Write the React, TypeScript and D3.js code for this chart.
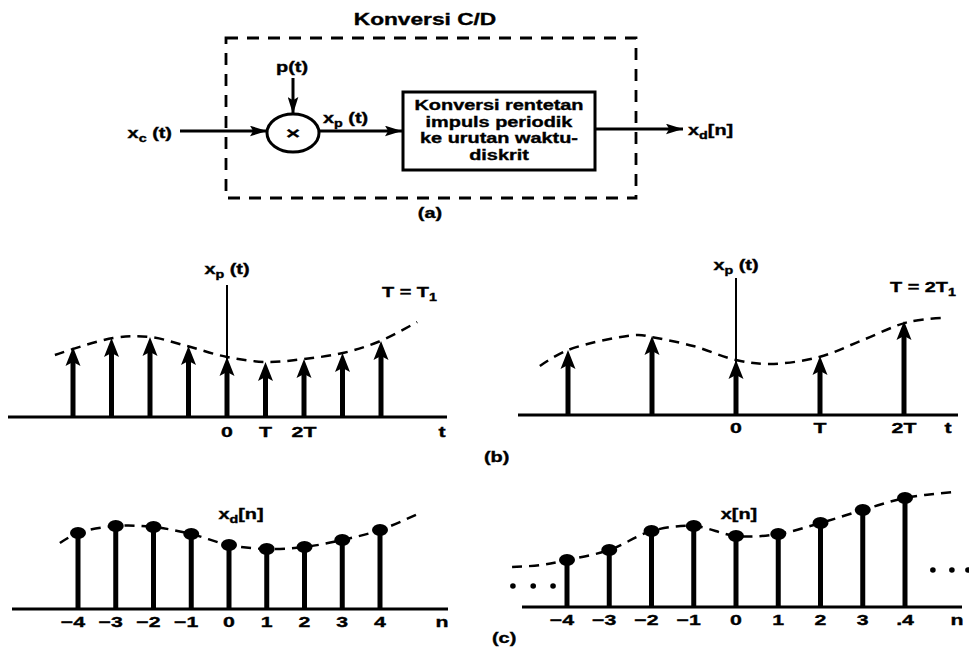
import * as d3 from 'd3';

// ---- data ----
// (b) left: T = T1, impulses at n*T1
const bLeftN = [-4, -3, -2, -1, 0, 1, 2, 3, 4];
const bLeftValues = [70, 79, 80, 71, 60, 55, 58, 64, 76];
const bLeftCurveT = [-4.47, -2.96, -2.0, -1.04, 0, 1.04, 2.0, 3.01, 3.92, 4.94];
const bLeftCurveV = [62, 79, 80, 71, 60, 55, 58, 64, 75, 95];
const bLeftTicks = ['0', 'T', '2T'];

// (b) right: T = 2T1, impulses at 2n*T1
const bRightN = [-4, -2, 0, 2, 4];
const bRightValues = [65, 79, 55, 59, 94];
const bRightCurveT = [-4.67, -4, -2.36, -2.02, -1.02, 0, 0.81, 1.98, 3.02, 4.1, 4.93];
const bRightCurveV = [49, 65, 80, 78, 69, 55, 51, 58, 75, 93, 97];
const bRightTicks = ['0', 'T', '2T'];

// (c) left: xd[n]
const cLeftN = [-4, -3, -2, -1, 0, 1, 2, 3, 4];
const cLeftValues = [76, 83, 82, 75, 64, 60, 62, 69, 79];
const cLeftCurveT = [-4.48, -4, -3, -2, -1, 0, 1, 2, 3, 4, 5.06];
const cLeftCurveV = [66, 76, 83, 82, 75, 64, 60, 62, 69, 79, 96];
const cLeftTicks = ['−4', '−3', '−2', '−1', '0', '1', '2', '3', '4'];

// (c) right: x[n]
const cRightN = [-4, -3, -2, -1, 0, 1, 2, 3, 4];
const cRightValues = [47, 57, 76, 81, 71, 73, 84, 97, 109];
const cRightCurveT = [-5.3, -4.6, -4, -3, -2, -1, 0, 1, 2, 3, 4, 5.14];
const cRightCurveV = [40, 42, 47, 57, 76, 81, 71, 73, 84, 97, 109, 115];
const cRightTicks = ['−4', '−3', '−2', '−1', '0', '1', '2', '3', '.4'];
const cRightDotsLeftT = [-5.28, -4.8, -4.33];
const cRightDotsRightT = [4.66, 5.11, 5.49];

const boxLines = ['Konversi rentetan', 'impuls periodik', 'ke urutan waktu-', 'diskrit'];

const FONT = '"Liberation Sans", Arial, Helvetica, sans-serif';
const SX = 1.42;

function Txt({ x, y, size = 14, anchor = 'middle', children }: any) {
  return (
    <text
      transform={`translate(${x},${y}) scale(${SX},1)`}
      textAnchor={anchor}
      fontSize={size}
      fontWeight="bold"
      fontFamily={FONT}
      fill="#000"
      stroke="#000"
      strokeWidth={0.35}
    >
      {children}
    </text>
  );
}

function Sub({ base, sub, rest }: any) {
  return (
    <>
      {base}
      <tspan fontSize="0.72em" dy="4">{sub}</tspan>
      <tspan dy="-4">{rest}</tspan>
    </>
  );
}

function dashedCurve(x: any, y: any, ts: number[], vs: number[]) {
  const line = d3.line<number>()
    .x((_, i) => x(ts[i]))
    .y((d) => y(d))
    .curve(d3.curveCatmullRom.alpha(0.5));
  return line(vs) as string;
}

function ImpulsePanel({ n, values, curveT, curveV, x, y, axis, vAxisTop, ticks, tickPos, tickY, tLabelX, label, labelY, periodText, periodX, periodY }: any) {
  const base = y(0);
  return (
    <g>
      <line x1={axis[0]} x2={axis[1]} y1={base} y2={base} stroke="#000" strokeWidth={3} />
      <line x1={x(0)} x2={x(0)} y1={vAxisTop} y2={base} stroke="#000" strokeWidth={2} />
      <path d={dashedCurve(x, y, curveT, curveV)} fill="none" stroke="#000" strokeWidth={2.5} strokeDasharray="10 7" />
      {n.map((k: number, i: number) => {
        const tip = y(values[i]);
        return (
          <g key={k}>
            <line x1={x(k)} x2={x(k)} y1={base} y2={tip + 12} stroke="#000" strokeWidth={5} />
            <path d={`M${x(k)},${tip} L${x(k) - 7.5},${tip + 19} L${x(k)},${tip + 15} L${x(k) + 7.5},${tip + 19} Z`} fill="#000" />
          </g>
        );
      })}
      {ticks.map((t: string, i: number) => (
        <Txt key={t} x={x(tickPos[i])} y={tickY} size={15}>{t}</Txt>
      ))}
      <Txt x={tLabelX} y={tickY} size={15}>t</Txt>
      <Txt x={x(0)} y={labelY} size={14}>{label}</Txt>
      <Txt x={periodX} y={periodY} size={14} anchor="start">{periodText}</Txt>
    </g>
  );
}

function StemPanel({ n, values, curveT, curveV, x, y, axis, ticks, tickY, nLabelX, label, labelX, labelY, dotsLeft, dotsRight, dotsLeftV, dotsRightV }: any) {
  const base = y(0);
  return (
    <g>
      <line x1={axis[0]} x2={axis[1]} y1={base} y2={base} stroke="#000" strokeWidth={3} />
      <path d={dashedCurve(x, y, curveT, curveV)} fill="none" stroke="#000" strokeWidth={2.5} strokeDasharray="10 7" />
      {n.map((k: number, i: number) => (
        <g key={k}>
          <line x1={x(k)} x2={x(k)} y1={base} y2={y(values[i])} stroke="#000" strokeWidth={5} />
          <ellipse cx={x(k)} cy={y(values[i])} rx={8} ry={6} fill="#000" />
        </g>
      ))}
      {ticks.map((t: string, i: number) => (
        <Txt key={t} x={x(n[i]) + (t.startsWith('−') ? -5 : 0)} y={tickY} size={15}>{t}</Txt>
      ))}
      <Txt x={nLabelX} y={tickY} size={15}>n</Txt>
      <Txt x={labelX} y={labelY} size={14}>{label}</Txt>
      {(dotsLeft || []).map((t: number) => <circle key={'l' + t} cx={x(t)} cy={y(dotsLeftV)} r={2.8} fill="#000" />)}
      {(dotsRight || []).map((t: number) => <circle key={'r' + t} cx={x(t)} cy={y(dotsRightV)} r={2.8} fill="#000" />)}
    </g>
  );
}

export default function App() {
  const width = 969;
  const height = 652;

  const xbL = d3.scaleLinear().domain([-4, 4]).range([73, 381]);
  const ybL = d3.scaleLinear().domain([0, 100]).range([417, 317]);
  const xbR = d3.scaleLinear().domain([-4, 4]).range([568, 904]);
  const ybR = d3.scaleLinear().domain([0, 100]).range([415, 315]);
  const xcL = d3.scaleLinear().domain([-4, 4]).range([78, 380]);
  const ycL = d3.scaleLinear().domain([0, 100]).range([609, 509]);
  const xcR = d3.scaleLinear().domain([-4, 4]).range([567, 905]);
  const ycR = d3.scaleLinear().domain([0, 100]).range([607, 507]);

  const arrowY = 131;

  return (
    <svg width={width} height={height} viewBox={`0 0 ${width} ${height}`}
      style={{ position: 'absolute', left: 0, top: 0, background: '#fff' }}>
      <defs>
        <marker id="ah" viewBox="0 0 16 10" refX={16} refY={5} markerWidth={17} markerHeight={11}
          markerUnits="userSpaceOnUse" orient="auto">
          <path d="M0,0 L16,5 L0,10 L3,5 Z" fill="#000" />
        </marker>
      </defs>
      <rect width={width} height={height} fill="#fff" />

      {/* (a) block diagram */}
      <Txt x={425} y={25} size={16}>Konversi C/D</Txt>
      <rect x={226} y={38} width={410} height={160} fill="none" stroke="#000" strokeWidth={2.8} strokeDasharray="12 9" />
      <Txt x={292} y={72} size={14}>p(t)</Txt>
      <line x1={293} x2={293} y1={78} y2={114} stroke="#000" strokeWidth={3} markerEnd="url(#ah)" />
      <ellipse cx={293} cy={133} rx={26} ry={19} fill="none" stroke="#000" strokeWidth={3} />
      <Txt x={293} y={139} size={17}>×</Txt>
      <Txt x={172} y={138} size={14} anchor="end"><Sub base="x" sub="c" rest=" (t)" /></Txt>
      <line x1={180} x2={267} y1={arrowY} y2={arrowY} stroke="#000" strokeWidth={3} markerEnd="url(#ah)" />
      <Txt x={323} y={123} size={14} anchor="start"><Sub base="x" sub="p" rest=" (t)" /></Txt>
      <line x1={319} x2={402} y1={arrowY} y2={arrowY} stroke="#000" strokeWidth={3} markerEnd="url(#ah)" />
      <rect x={403} y={92} width={192} height={78} fill="#fff" stroke="#000" strokeWidth={3} />
      {boxLines.map((l, i) => (
        <Txt key={l} x={499} y={110 + i * 16.5} size={14}>{l}</Txt>
      ))}
      <line x1={595} x2={683} y1={arrowY - 2} y2={arrowY - 2} stroke="#000" strokeWidth={3} markerEnd="url(#ah)" />
      <Txt x={688} y={135} size={14} anchor="start"><Sub base="x" sub="d" rest="[n]" /></Txt>
      <Txt x={430} y={218} size={14}>(a)</Txt>

      {/* (b) impulse trains */}
      <ImpulsePanel n={bLeftN} values={bLeftValues} curveT={bLeftCurveT} curveV={bLeftCurveV}
        x={xbL} y={ybL} axis={[8, 447]} vAxisTop={285} ticks={bLeftTicks} tickPos={[0, 1, 2]}
        tickY={437} tLabelX={442} label={<Sub base="x" sub="p" rest=" (t)" />} labelY={274}
        periodText={<Sub base="T = T" sub="1" rest="" />} periodX={382} periodY={297} />
      <ImpulsePanel n={bRightN} values={bRightValues} curveT={bRightCurveT} curveV={bRightCurveV}
        x={xbR} y={ybR} axis={[518, 958]} vAxisTop={278} ticks={bRightTicks} tickPos={[0, 2, 4]}
        tickY={433} tLabelX={948} label={<Sub base="x" sub="p" rest=" (t)" />} labelY={270}
        periodText={<Sub base="T = 2T" sub="1" rest="" />} periodX={890} periodY={292} />
      <Txt x={484} y={462} size={14} anchor="start">(b)</Txt>

      {/* (c) sequences */}
      <StemPanel n={cLeftN} values={cLeftValues} curveT={cLeftCurveT} curveV={cLeftCurveV}
        x={xcL} y={ycL} axis={[12, 448]} ticks={cLeftTicks} tickY={627} nLabelX={442}
        label={<Sub base="x" sub="d" rest="[n]" />} labelX={241} labelY={519} />
      <StemPanel n={cRightN} values={cRightValues} curveT={cRightCurveT} curveV={cRightCurveV}
        x={xcR} y={ycR} axis={[522, 962]} ticks={cRightTicks} tickY={625} nLabelX={957}
        label="x[n]" labelX={739} labelY={519}
        dotsLeft={cRightDotsLeftT} dotsLeftV={21} dotsRight={cRightDotsRightT} dotsRightV={37} />
      <Txt x={492} y={643} size={14} anchor="start">(c)</Txt>
    </svg>
  );
}
